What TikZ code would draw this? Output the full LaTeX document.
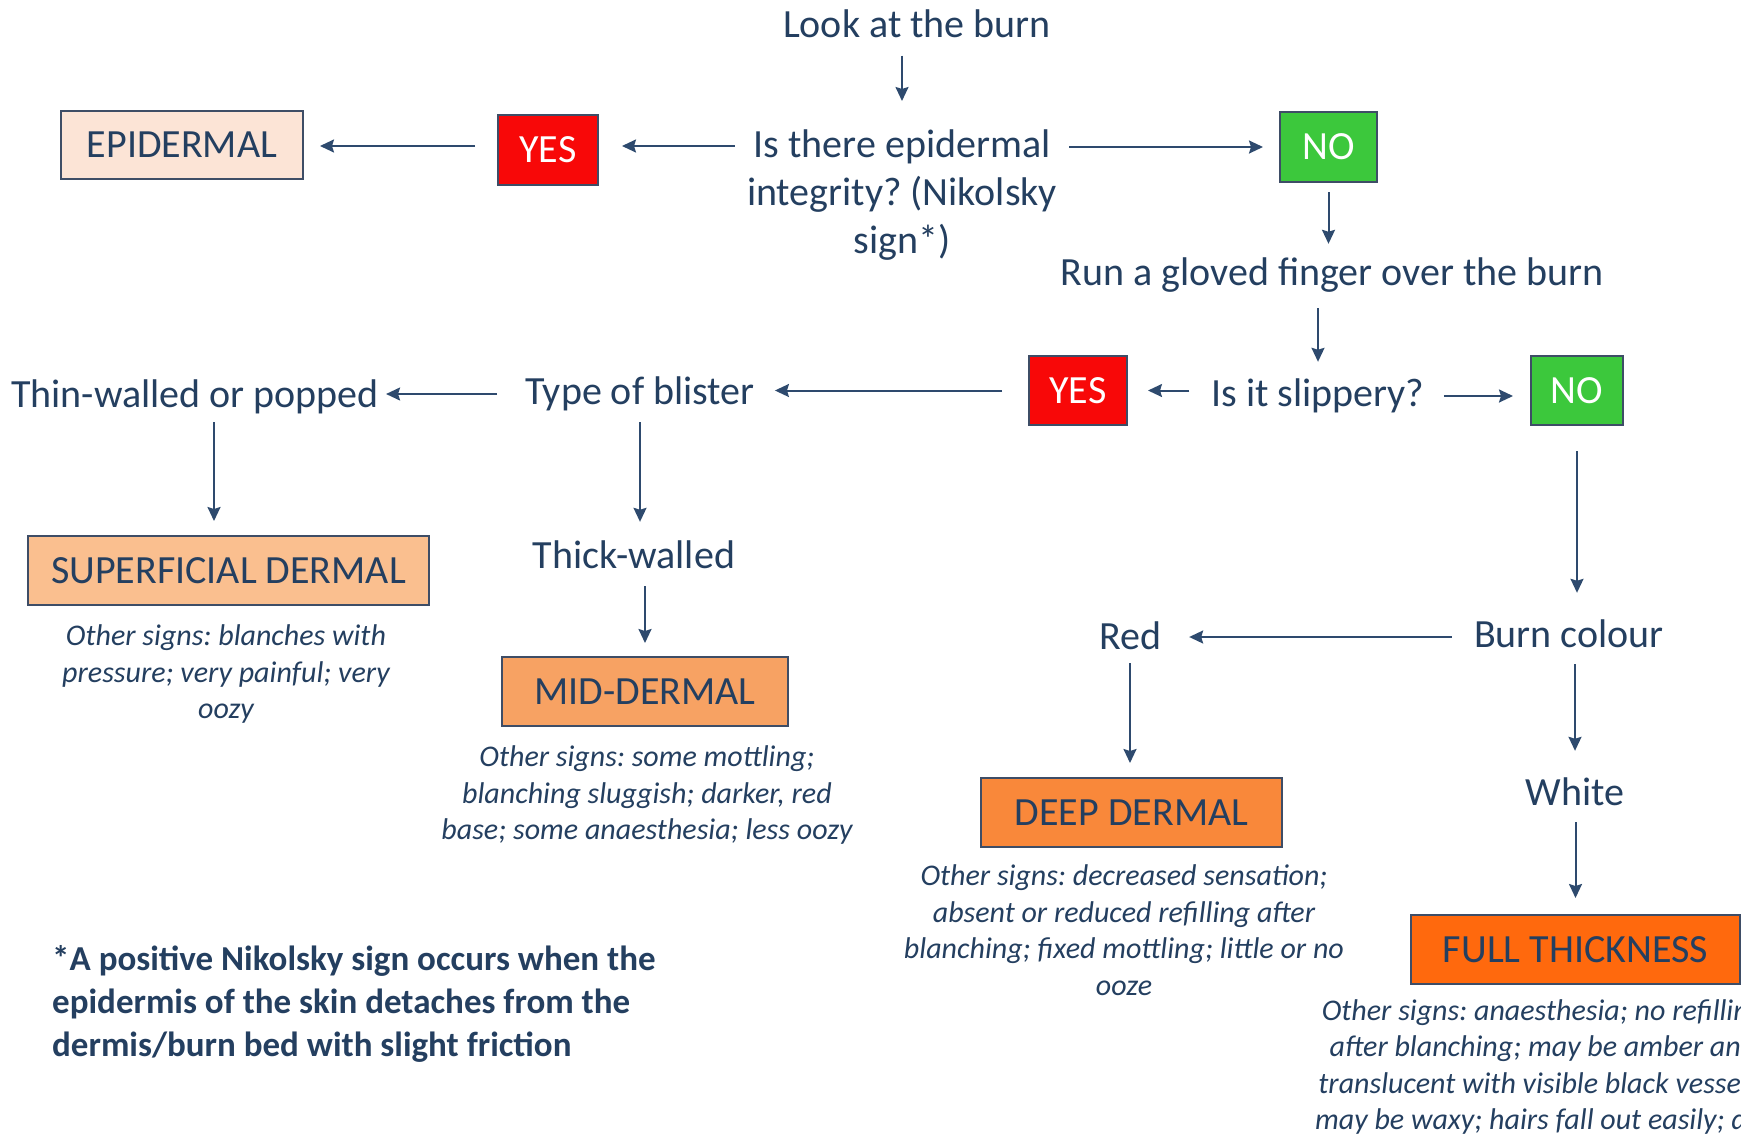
\documentclass[tikz,border=0pt]{standalone}
\usepackage{fontspec}
\setmainfont{Carlito}
\usetikzlibrary{arrows.meta}
\definecolor{txtc}{HTML}{243F60}
\definecolor{arrc}{HTML}{2E4A6E}
\definecolor{boxc}{HTML}{3E4D66}
\definecolor{yesc}{HTML}{F80808}
\definecolor{noc}{HTML}{3CC83C}
\definecolor{epic}{HTML}{FCE4D6}
\definecolor{supc}{HTML}{FABF8F}
\definecolor{midc}{HTML}{F7A263}
\definecolor{deepc}{HTML}{F9883A}
\definecolor{fullc}{HTML}{FF690D}
\frenchspacing
\begin{document}
\begin{tikzpicture}[x=1pt,y=-1pt,
  lbl/.style={text=txtc, font=\frenchspacing\fontsize{40}{48}\selectfont, inner sep=0pt, text height=28pt, text depth=8pt},
  multi/.style={text=txtc, font=\frenchspacing\fontsize{40}{48}\selectfont, inner sep=0pt, align=center},
  note/.style={text=txtc, font=\frenchspacing\itshape\fontsize{30}{36.5}\selectfont, inner sep=0pt, align=center},
  foot/.style={text=txtc, font=\frenchspacing\bfseries\fontsize{35}{43}\selectfont, inner sep=0pt, align=left},
  box/.style={draw=boxc, line width=2pt, inner sep=0pt, text=txtc, font=\fontsize{40}{48}\selectfont},
  yn/.style={box, text=white},
  arr/.style={draw=arrc, line width=2pt, -{Stealth[length=14pt,width=13pt,inset=2pt]}}]
\useasboundingbox (0,0) rectangle (1741,1138);
\fill[white] (0,0) rectangle (1741,1138);
\clip (0,0) rectangle (1741,1138);

% nodes
\node[lbl] (look) at (917,27.5) {Look at the burn};
\node[multi] (q1) at (902,195.5) {Is there epidermal\\integrity? (Nikolsky\\sign*)};
\node[yn, fill=yesc, minimum width=100pt, minimum height=70pt] (yes1) at (548,150) {YES};
\node[box, fill=epic, minimum width=242pt, minimum height=68pt] (epi) at (182,145) {EPIDERMAL};
\node[yn, fill=noc, minimum width=97pt, minimum height=70pt] (no1) at (1328.5,147) {NO};
\node[lbl] (run) at (1332,275) {Run a gloved finger over the burn};
\node[lbl] (slip) at (1318,396) {Is it slippery?};
\node[yn, fill=yesc, minimum width=98pt, minimum height=69pt] (yes2) at (1078,390.5) {YES};
\node[yn, fill=noc, minimum width=92pt, minimum height=69pt] (no2) at (1577,390.5) {NO};
\node[lbl] (type) at (640,394) {Type of blister};
\node[lbl] (thin) at (195,397) {Thin-walled or popped};
\node[box, fill=supc, minimum width=401pt, minimum height=69pt] (sup) at (228.5,570.5) {SUPERFICIAL DERMAL};
\node[note] (supn) at (226,674) {Other signs: blanches with\\pressure; very painful; very\\oozy};
\node[lbl] (thick) at (634,558) {Thick-walled};
\node[box, fill=midc, minimum width=286pt, minimum height=69pt] (mid) at (645,691.5) {MID-DERMAL};
\node[note] (midn) at (647,795) {Other signs: some mottling;\\blanching sluggish; darker, red\\base; some anaesthesia; less oozy};
\node[lbl] (burnc) at (1569,637) {Burn colour};
\node[lbl] (red) at (1130,639) {Red};
\node[box, fill=deepc, minimum width=301pt, minimum height=69pt] (deep) at (1131.5,812.5) {DEEP DERMAL};
\node[note] (deepn) at (1124,930) {Other signs: decreased sensation;\\absent or reduced refilling after\\blanching; fixed mottling; little or no\\ooze};
\node[lbl] (white) at (1575,795) {White};
\node[box, fill=fullc, minimum width=329pt, minimum height=69pt] (full) at (1575.5,949.5) {FULL THICKNESS};
\node[note] (fulln) at (1543,1067) {Other signs: anaesthesia; no refilling\\after blanching; may be amber and\\translucent with visible black vessels;\\may be waxy; hairs fall out easily; dry};
\node[foot, anchor=north west] (fn) at (52,945) {*A positive Nikolsky sign occurs when the\\epidermis of the skin detaches from the\\dermis/burn bed with slight friction};

% connectors
\draw[arr, shorten <=10pt, shorten >=29pt] (look.south -| q1.north) -- (q1.north);
\draw[arr, shorten <=12pt, shorten >=23pt] ([yshift=4pt]q1.west |- yes1.east) -- ([yshift=4pt]yes1.east);
\draw[arr, shorten <=22pt, shorten >=16pt] ([yshift=4pt]yes1.west) -- ([yshift=4pt]yes1.west -| epi.east);
\draw[arr, shorten <=12pt, shorten >=16pt] (q1.east |- no1.west) -- (no1.west);
\draw[arr, shorten <=9pt, shorten >=13pt] (no1.south) -- (no1.south |- run.north);
\draw[arr, shorten <=15pt, shorten >=16pt] (run.south -| slip.north) -- (slip.north);
\draw[arr, shorten <=22pt, shorten >=20pt] (slip.west |- yes2.east) -- (yes2.east);
\draw[arr, shorten <=19pt, shorten >=17pt] (slip.east) -- (slip.east -| no2.west);
\draw[arr, shorten <=26pt, shorten >=20pt] (yes2.west) -- (yes2.west -| type.east);
\draw[arr, shorten <=28pt, shorten >=7pt] (type.west) -- (type.west -| thin.east);
\draw[arr, shorten <=7pt, shorten >=14pt] ([xshift=19pt]thin.south) -- ([xshift=19pt]thin.south |- sup.north);
\draw[arr, shorten <=10pt, shorten >=18pt] (type.south) -- (type.south |- thick.north);
\draw[arr, shorten <=10pt, shorten >=13pt] (thick.south -| mid.north) -- (mid.north);
\draw[arr, shorten <=25pt, shorten >=26pt] (no2.south) -- (no2.south |- burnc.north);
\draw[arr, shorten <=22pt, shorten >=28pt] (burnc.west) -- (burnc.west -| red.east);
\draw[arr, shorten <=6pt, shorten >=14pt] (red.south) -- (red.south |- deep.north);
\draw[arr, shorten <=9pt, shorten >=26pt] (burnc.south -| white.north) -- (white.north);
\draw[arr, shorten <=9pt, shorten >=16pt] (white.south -| full.north) -- (full.north);
\end{tikzpicture}
\end{document}
